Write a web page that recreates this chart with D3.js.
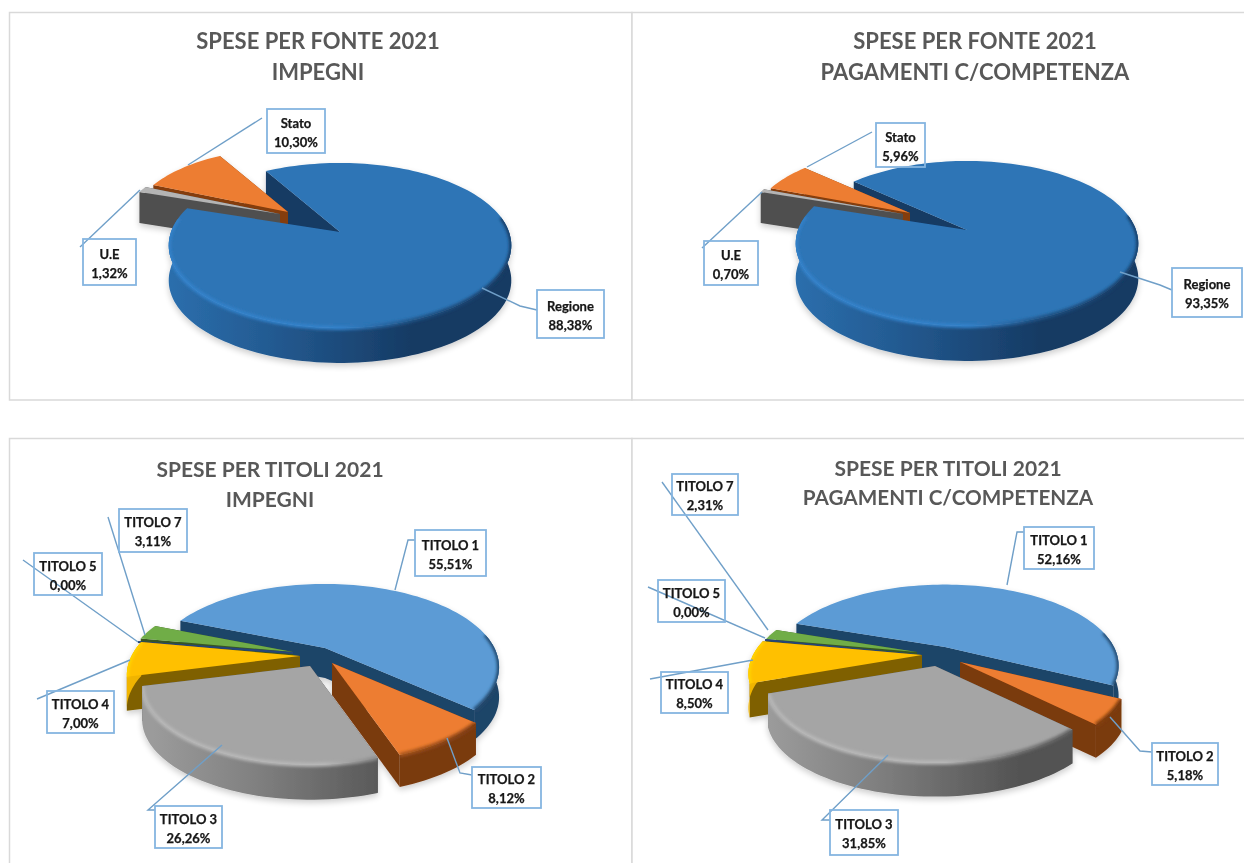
<!DOCTYPE html>
<html><head><meta charset="utf-8">
<style>html,body{margin:0;padding:0;background:#fff}svg{display:block}text{font-family:Lato,"Open Sans",sans-serif;font-weight:700}</style>
<script src="https://d3js.org/d3.v7.min.js"></script></head><body>
<script>
// ---- data ----
const fonteCategories = ["Regione","U.E","Stato"];
const fonteImpegni = [88.38,1.32,10.30];
const fontePagamenti = [93.35,0.70,5.96];
const titoliCategories = ["TITOLO 1","TITOLO 2","TITOLO 3","TITOLO 4","TITOLO 5","TITOLO 7"];
const titoliImpegni = [55.51,8.12,26.26,7.00,0.00,3.11];
const titoliPagamenti = [52.16,5.18,31.85,8.50,0.00,2.31];
const titleFonteImpegni = ["SPESE PER FONTE 2021","IMPEGNI"];
const titleFontePagamenti = ["SPESE PER FONTE 2021","PAGAMENTI C/COMPETENZA"];
const titleTitoliImpegni = ["SPESE PER TITOLI 2021","IMPEGNI"];
const titleTitoliPagamenti = ["SPESE PER TITOLI 2021","PAGAMENTI C/COMPETENZA"];
const fonteColors = {"Regione":["#2E75B6","#163A63"],"U.E":["#B4B4B4","#505050"],"Stato":["#ED7D31","#843C0C"]};
const titoliColors = {"TITOLO 1":["#5B9BD5","#1F4468"],"TITOLO 2":["#ED7D31","#7A3A0E"],"TITOLO 3":["#A5A5A5","#525252"],
  "TITOLO 4":["#FFC000","#7F6000"],"TITOLO 5":["#264478","#1F3864"],"TITOLO 7":["#70AD47","#385723"]};

// ---- layout ----
const panels = [
 {cats:fonteCategories, vals:fonteImpegni, title:titleFonteImpegni, colors:fonteColors, tx:318, ty:[49,80], fs:[22,22],
  geo:{cx:340,cy:232,rx:169,ry:80.3,p:.163,depth:35}, start:-30,
  slices:{"Regione":{},"U.E":{apex:[280,214],k:.92,depth:31},"Stato":{apex:[288,212],k:.92,depth:27}},
  order:[["Regione","w"],["Stato","a"],["U.E","a"],["Regione","b"]],
  boxes:{"Regione":[537,290,604,338],"U.E":[83,239,136,285],"Stato":[267,109,325,153]},
  leaders:{"Regione":[[537,310],[520,306],[482,288]],"U.E":[[80,247],[140,190]],"Stato":[[262,118],[188,165]]}},
 {cats:fonteCategories, vals:fontePagamenti, title:titleFontePagamenti, colors:fonteColors, tx:975, ty:[49,80], fs:[22,22],
  geo:{cx:967,cy:230,rx:169,ry:80.3,p:.163,depth:35}, start:-48,
  slices:{"Regione":{},"U.E":{apex:[903,214],k:.93,depth:31},"Stato":{apex:[910,213],k:.93,depth:27}},
  order:[["Regione","w"],["Stato","a"],["U.E","a"],["Regione","b"]],
  boxes:{"Regione":[1172,268,1242,317],"U.E":[704,241,758,285],"Stato":[876,123,925,167]},
  leaders:{"Regione":[[1172,290],[1160,285],[1120,272]],"U.E":[[702,248],[762,192]],"Stato":[[872,132],[807,167]]}},
 {cats:titoliCategories, vals:titoliImpegni, title:titleTitoliImpegni, colors:titoliColors, tx:270, ty:[477,507], fs:[21,21],
  geo:{cx:325,cy:648,rx:172,ry:80,p:.23,depth:30}, start:-68,
  slices:{"TITOLO 1":{k:.985},"TITOLO 2":{apex:[332,663],k:.95,depth:32},"TITOLO 3":{apex:[310,666],k:.95,depth:35},
    "TITOLO 4":{apex:[300,656],k:.98,depth:34},"TITOLO 5":{line:[[138,642],[293,653]]},"TITOLO 7":{apex:[293,652],k:.94,depth:10}},
  order:[["TITOLO 1","a"],["TITOLO 7","a"],["TITOLO 5","a"],["TITOLO 4","a"],["TITOLO 2","a"],["TITOLO 3","a"]],
  boxes:{"TITOLO 1":[415,530,486,576],"TITOLO 2":[472,767,541,808],"TITOLO 3":[155,806,222,848],"TITOLO 4":[47,691,114,733],"TITOLO 5":[34,553,102,595],"TITOLO 7":[119,509,187,552]},
  leaders:{"TITOLO 1":[[415,540],[408,540],[395,590]],"TITOLO 2":[[472,775],[460,773],[447,738]],"TITOLO 3":[[155,810],[148,810],[222,745]],
    "TITOLO 4":[[37,699],[130,660]],"TITOLO 5":[[23,560],[138,642]],"TITOLO 7":[[108,517],[145,635]]}},
 {cats:titoliCategories, vals:titoliPagamenti, title:titleTitoliPagamenti, colors:titoliColors, tx:948, ty:[476,505], fs:[21,20.7],
  geo:{cx:945,cy:647,rx:176,ry:80,p:.23,depth:30}, start:-71,
  slices:{"TITOLO 1":{k:.96},"TITOLO 2":{apex:[960,662],k:.92,depth:33},"TITOLO 3":{apex:[935,666],k:.93,depth:34},
    "TITOLO 4":{apex:[922,655],k:.96,depth:34},"TITOLO 5":{line:[[765,640],[917,655]]},"TITOLO 7":{apex:[917,652],k:.91,depth:10}},
  order:[["TITOLO 1","a"],["TITOLO 7","a"],["TITOLO 5","a"],["TITOLO 4","a"],["TITOLO 2","a"],["TITOLO 3","a"]],
  boxes:{"TITOLO 1":[1024,527,1094,569],"TITOLO 2":[1152,743,1218,785],"TITOLO 3":[830,810,898,855],"TITOLO 4":[661,672,728,713],"TITOLO 5":[658,580,725,622],"TITOLO 7":[672,474,738,515]},
  leaders:{"TITOLO 1":[[1024,532],[1017,532],[1007,585]],"TITOLO 2":[[1152,752],[1140,751],[1110,717]],"TITOLO 3":[[830,820],[822,820],[888,755]],
    "TITOLO 4":[[650,679],[753,660]],"TITOLO 5":[[648,587],[765,638]],"TITOLO 7":[[662,482],[768,630]]}}
];
const frames = [[9.5,12.5,622.5,387.5],[632,12.5,640,387.5],[9.5,438.5,622.5,460],[632,438.5,640,460]];

const fmt = d3.formatLocale({decimal:",",thousands:".",grouping:[3],currency:["","€"]}).format(".2f");
const svg = d3.select("body").append("svg").attr("width",1244).attr("height",863).attr("viewBox","0 0 1244 863");
const defs = svg.append("defs");
defs.append("filter").attr("id","soft").attr("x","-5%").attr("y","-5%").attr("width","110%").attr("height","110%")
  .append("feGaussianBlur").attr("stdDeviation",.55);
defs.append("filter").attr("id","softText").attr("x","-5%").attr("y","-10%").attr("width","110%").attr("height","120%")
  .append("feGaussianBlur").attr("stdDeviation",.3);
const bev = defs.append("filter").attr("id","bevel").attr("filterUnits","userSpaceOnUse").attr("x",0).attr("y",0).attr("width",1244).attr("height",863);
bev.append("feGaussianBlur").attr("stdDeviation",1.5);
const shad = defs.append("filter").attr("id","shadow").attr("x","-10%").attr("y","-10%").attr("width","120%").attr("height","130%");
shad.append("feGaussianBlur").attr("in","SourceAlpha").attr("stdDeviation",3).attr("result","b");
shad.append("feOffset").attr("in","b").attr("dy",3).attr("result","o");
shad.append("feComponentTransfer").attr("in","o").attr("result","s").append("feFuncA").attr("type","linear").attr("slope",.2);
const mrg = shad.append("feMerge"); mrg.append("feMergeNode").attr("in","s"); mrg.append("feMergeNode").attr("in","SourceGraphic");

svg.selectAll("rect.frame").data(frames).join("rect").attr("class","frame")
  .attr("x",d=>d[0]).attr("y",d=>d[1]).attr("width",d=>d[2]).attr("height",d=>d[3])
  .attr("fill","#fff").attr("stroke","#d9d9d9").attr("stroke-width",1.5);

const rad = d=>d*Math.PI/180;
const closed = d3.line().curve(d3.curveLinearClosed);
const open = d3.line();

panels.forEach((P,pi)=>{
  const G = P.geo;
  const project = t=>{ const u=Math.cos(t), v=Math.sin(t), w=1/(1+G.p*u); return [G.rx*v*w, -G.ry*u*w]; };
  const arcs = d3.pie().sort(null).startAngle(rad(P.start)).endAngle(rad(P.start+360))(P.vals);
  const byName = {}; P.cats.forEach((c,i)=>byName[c]=arcs[i]);
  const root = svg.append("g").attr("class","pie").attr("filter","url(#soft)");
  const gPie = root.append("g").attr("filter","url(#shadow)");

  function parts(name){
    const a=byName[name], S=P.slices[name]||{}, k=S.k||1, d=S.depth||G.depth;
    const A=S.apex||[G.cx,G.cy];
    const rim=t=>{const q=project(t);return [A[0]+q[0]*k,A[1]+q[1]*k];};
    const n=Math.max(2,Math.ceil((a.endAngle-a.startAngle)/rad(2)));
    const ts=d3.range(n+1).map(i=>a.startAngle+(a.endAngle-a.startAngle)*i/n);
    return {A,k,d,rim,ts,a,S};
  }
  function hGrad(id,stops){
    const gr=defs.append("linearGradient").attr("id",id).attr("gradientUnits","userSpaceOnUse")
      .attr("x1",G.cx-G.rx).attr("x2",G.cx+G.rx).attr("y1",0).attr("y2",0);
    stops.forEach(s=>gr.append("stop").attr("offset",s[0]).attr("stop-color",s[1]));
    return `url(#${id})`;
  }
  function drawWalls(name){
    const {A,d,rim,ts,S}=parts(name), col=P.colors[name];
    if(S.line) return;
    [ts[0],ts[ts.length-1]].forEach(t=>{
      const r=rim(t);
      gPie.append("path").attr("d",closed([A,r,[r[0],r[1]+d],[A[0],A[1]+d]])).attr("fill",col[1]);
    });
  }
  function drawBody(name,gid){
    const {A,d,rim,ts,S}=parts(name), col=P.colors[name];
    if(S.line){ gPie.append("path").attr("d",open(S.line)).attr("stroke",col[0]).attr("stroke-width",2.2).attr("fill","none"); return; }
    const mix=d3.interpolateRgb(col[0],col[1]);
    const front=ts.filter(t=>Math.cos(t)<.2);
    const topPath=closed([A].concat(ts.map(rim)));
    let wallPath=null;
    if(front.length>1){
      const top=front.map(rim), bot=top.map(q=>[q[0],q[1]+d]).reverse();
      wallPath=closed(top.concat(bot));
      gPie.append("path").attr("d",wallPath)
        .attr("fill",hGrad(gid,[[0,mix(.12)],[.3,mix(.45)],[.72,col[1]],[1,col[1]]]));
    }
    gPie.append("path").attr("d",topPath).attr("fill",col[0]);
    if(wallPath){
      const clipId=gid+"c", cp=defs.append("clipPath").attr("id",clipId);
      cp.append("path").attr("d",topPath); cp.append("path").attr("d",wallPath);
      const hi=d3.color(col[0]).brighter(.3).formatHex();
      const g=gPie.append("g").attr("clip-path",`url(#${clipId})`);
      g.append("path").attr("d",open(front.map(rim))).attr("fill","none")
        .attr("stroke",hGrad(gid+"s",[[0,hi],[.5,hi],[.72,mix(.6)],[1,col[1]]]))
        .attr("stroke-width",4).attr("filter","url(#bevel)");
    }
  }
  P.order.forEach(([name,mode],j)=>{
    const gid=`w${pi}_${j}`;
    if(mode==="w"||mode==="a") drawWalls(name);
    if(mode==="b"||mode==="a") drawBody(name,gid);
  });

  // titles
  const t=svg.append("g").attr("filter","url(#softText)");
  P.title.forEach((s,i)=>t.append("text").attr("x",P.tx).attr("y",P.ty[i]).attr("text-anchor","middle")
     .attr("font-size",P.fs[i]).attr("fill","#595959").text(s));

  // leaders + boxes + labels
  const lab=svg.append("g").attr("filter","url(#softText)");
  P.cats.forEach(c=>{
    lab.append("path").attr("d",open(P.leaders[c])).attr("fill","none").attr("stroke","#6f9fc8").attr("stroke-width",1.4);
  });
  P.cats.forEach((c,i)=>{
    const b=P.boxes[c];
    lab.append("rect").attr("x",b[0]).attr("y",b[1]).attr("width",b[2]-b[0]).attr("height",b[3]-b[1])
      .attr("fill","none").attr("stroke","#85b5e0").attr("stroke-width",1.8);
    const mx=(b[0]+b[2])/2, my=(b[1]+b[3])/2;
    [[c,my-3.5],[fmt(P.vals[i])+"%",my+15.5]].forEach(([s,y])=>
      lab.append("text").attr("x",mx).attr("y",y).attr("text-anchor","middle").attr("font-size",13)
        .attr("fill","#151515").attr("stroke","#151515").attr("stroke-width",.25).text(s));
  });
});
</script></body></html>
